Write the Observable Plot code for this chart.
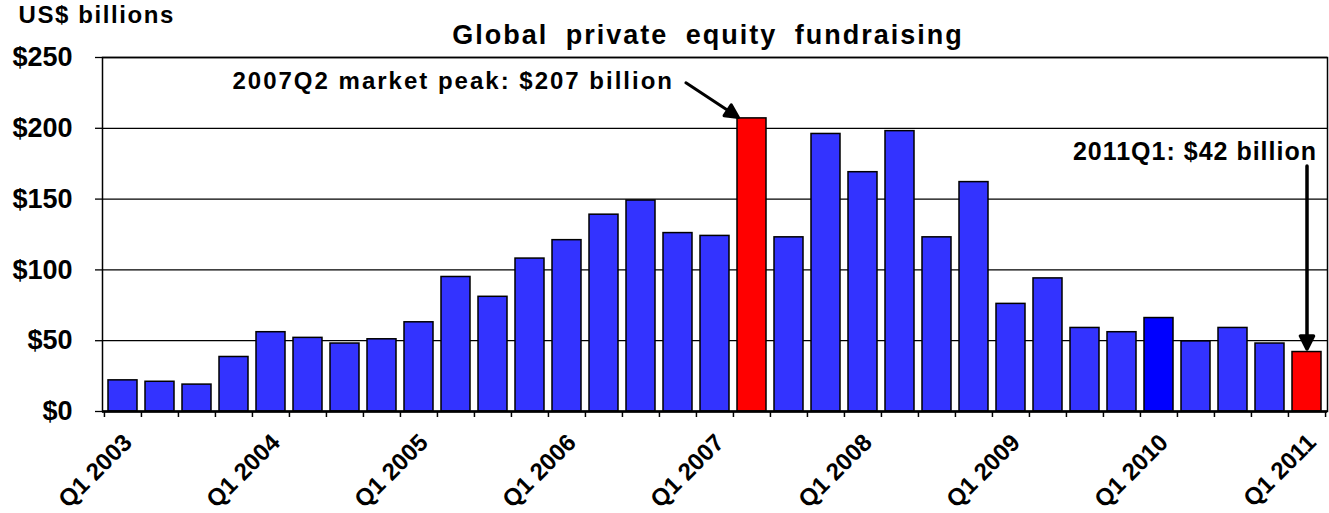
<!DOCTYPE html>
<html>
<head>
<meta charset="utf-8">
<script src="https://cdn.jsdelivr.net/npm/d3@7"></script>
<script src="https://cdn.jsdelivr.net/npm/@observablehq/plot@0.6"></script>
<style>
  html, body { margin: 0; padding: 0; background: #fff; }
  #chart { width: 1329px; height: 513px; }
</style>
</head>
<body>
<div id="chart"></div>
<script>
// ---- data ----
const years = [2003, 2004, 2005, 2006, 2007, 2008, 2009, 2010, 2011];
const quarterNames = ["Q1", "Q2", "Q3", "Q4"];
const quarters = years.flatMap(y => quarterNames.map(q => `${q} ${y}`)).slice(0, 33);
const values = [22, 21, 19, 38.5, 56, 52, 48, 51, 63, 95,
                81, 108, 121, 139, 149, 126, 124, 207, 123, 196,
                169, 198, 123, 162, 76, 94, 59, 56, 66, 49.5,
                59, 48, 42];
const yTicks = [0, 50, 100, 150, 200, 250];
const labelQuarters = quarters.filter(q => q.startsWith("Q1"));
const highlightQuarters = ["Q2 2007", "Q1 2011"];
const darkQuarters = ["Q1 2010"];
const peakNote = {q: "Q2 2007", v: 207, text: "2007Q2 market peak: $207 billion"};
const lastNote = {q: "Q1 2011", v: 42, text: "2011Q1: $42 billion"};
const titleText = "Global private equity fundraising";
const unitText = "US$ billions";

// ---- layout ----
const W = 1329, H = 513, ML = 102, MR = 2, MT = 57, MB = 102;
const step = (W - ML - MR) / quarters.length;

const table = quarters.map((q, i) => ({q, v: values[i]}));
const barFill = d => highlightQuarters.includes(d.q) ? "#ff0000"
                   : darkQuarters.includes(d.q) ? "#0000ff" : "#3333ff";

const solidArrow = {
  draw(ctx, l) {
    const h = 13, w = 6.5;
    ctx.moveTo(0, 0);
    ctx.lineTo(0, -l + h);
    ctx.moveTo(-w, h - l);
    ctx.lineTo(0, -l);
    ctx.lineTo(w, h - l);
    ctx.closePath();
  }
};

const chart = Plot.plot({
  width: W,
  height: H,
  marginLeft: ML,
  marginRight: MR,
  marginTop: MT,
  marginBottom: MB,
  style: {fontFamily: "'Liberation Sans', Arial, sans-serif", fontWeight: "bold", background: "#fff", color: "#000", overflow: "visible"},
  x: {type: "band", domain: quarters, paddingInner: 0.21, paddingOuter: 0.105, label: null},
  y: {domain: [0, 250], label: null},
  color: {type: "identity"},
  marks: [
    Plot.gridY(yTicks, {stroke: "#000", strokeOpacity: 1, strokeWidth: 1.3}),
    Plot.barY(table, {x: "q", y: "v", fill: barFill, stroke: "#000", strokeWidth: 1.5}),
    Plot.frame({stroke: "#000", strokeWidth: 1.5}),
    Plot.ruleY([0], {stroke: "#000", strokeWidth: 2.5}),
    Plot.axisY(yTicks, {tickSize: 7, tickPadding: 23, tickFormat: d => "$" + d, fontSize: 27, strokeWidth: 1.3, label: null}),
    Plot.axisX(quarters, {tickSize: 6, text: null, dx: -step / 2, strokeWidth: 1.5, label: null}),
    Plot.axisX(quarters.slice(-1), {tickSize: 6, text: null, dx: step / 2, strokeWidth: 1.5, label: null}),
    Plot.axisX(labelQuarters, {tickSize: 0, tickPadding: 27, tickRotate: -45, fontSize: 24, dx: 5, label: null}),
    Plot.text([titleText], {text: d => d, frameAnchor: "top", dx: -7, dy: -22, fontSize: 27, lineAnchor: "middle"}),
    Plot.text([unitText], {text: d => d, frameAnchor: "top-left", textAnchor: "start", dx: -84, dy: -42, fontSize: 24, lineAnchor: "middle"}),
    Plot.text([peakNote], {x: "q", y: "v", text: "text", textAnchor: "end", lineAnchor: "middle", dx: -78, dy: -37, fontSize: 24}),
    Plot.text([lastNote], {x: "q", y: "v", text: "text", textAnchor: "end", lineAnchor: "middle", dx: 10, dy: -200, fontSize: 25}),
    Plot.vector([peakNote], {x: "q", y: "v", anchor: "end", rotate: 123.4, length: 63, dx: -13.5, dy: -1, shape: solidArrow, stroke: "#000", fill: "#000", strokeWidth: 3}),
    Plot.vector([lastNote], {x: "q", y: "v", anchor: "end", rotate: 180, length: 183, dy: -3, shape: solidArrow, stroke: "#000", fill: "#000", strokeWidth: 3.5})
  ]
});

// text spacing to match the reference's wide lettering
const spacing = new Map([
  [titleText, {ls: "2px", ws: "8px"}],
  [unitText, {ls: "1.6px", ws: "0px"}],
  [peakNote.text, {ls: "2px", ws: "0px"}],
  [lastNote.text, {ls: "1px", ws: "0px"}]
]);
d3.select(chart).selectAll("text").each(function () {
  const s = spacing.get(this.textContent);
  if (s) d3.select(this).style("letter-spacing", s.ls).style("word-spacing", s.ws);
});

document.getElementById("chart").appendChild(chart);
</script>
</body>
</html>
